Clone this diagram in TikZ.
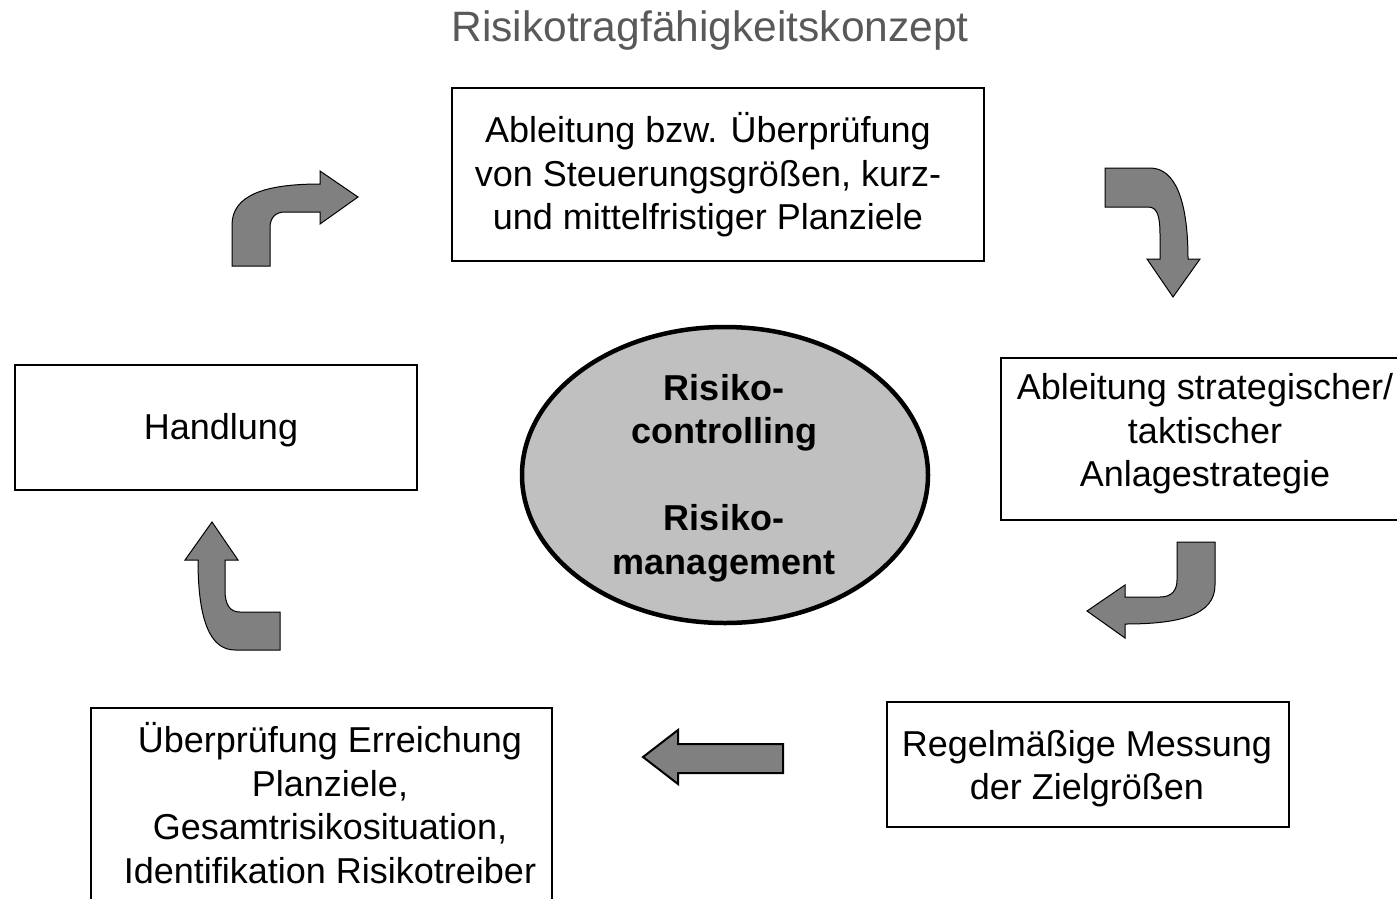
\documentclass[tikz,border=0pt]{standalone}
\usepackage{fontspec}
\setmainfont{Liberation Sans}
\usetikzlibrary{shapes.geometric}
\definecolor{arrowgray}{HTML}{808080}
\definecolor{ellgray}{HTML}{C0C0C0}
\definecolor{titlegray}{HTML}{595959}
\begin{document}
\begin{tikzpicture}[x=1pt,y=-1pt,
  box/.style={draw=black,line width=1.3pt,rectangle,inner sep=0pt},
  txt/.style={align=center,inner sep=0pt,font=\fontsize{36}{43.5}\selectfont},
  bent/.style={fill=arrowgray,draw=black,line width=1pt,line join=miter},
  flat/.style={fill=arrowgray,draw=black,line width=2pt,line join=miter}]
\useasboundingbox (0,0) rectangle (1397,898);
\begin{scope}
\clip (0,0) rectangle (1397,898);
% title
\node[inner sep=0pt,text=titlegray,font=\fontsize{42.5}{50}\selectfont] (title) at (710,31) {Risikotragfähigkeitskonzept};
% boxes
\node[box,minimum width=532pt,minimum height=173pt] (top) at (718,174.5) {};
\node[txt] (toptxt) at (708,175) {Ableitung bzw. Überprüfung\\von Steuerungsgrößen, kurz-\\und mittelfristiger Planziele};
\node[box,minimum width=402pt,minimum height=125pt] (hand) at (216,427.5) {};
\node[txt] (handtxt) at (221,430) {Handlung};
\node[box,minimum width=420pt,minimum height=162pt] (right) at (1211,439) {};
\node[txt] (righttxt) at (1205,434) {Ableitung strategischer/\\taktischer\\Anlagestrategie};
\node[box,minimum width=402pt,minimum height=125pt] (regel) at (1088,764.5) {};
\node[txt] (regeltxt) at (1087,768.5) {Regelmäßige Messung\\der Zielgrößen};
\node[box,minimum width=461pt,minimum height=220pt] (check) at (321.5,818) {};
\node[txt] (checktxt) at (330,803) {Überprüfung Erreichung\\Planziele,\\Gesamtrisikosituation,\\Identifikation Risikotreiber};
% ellipse
\node[ellipse,draw=black,line width=4.5pt,fill=ellgray,minimum width=406pt,minimum height=296pt] (ell) at (725,475) {};
\node[txt,font=\bfseries\fontsize{36}{43.5}\selectfont] (elltxt) at (724,478) {Risiko-\\controlling\\\strut\\Risiko-\\management};
% arrows
\draw[bent] (232,266) -- (232,225) .. controls (232,195) and (265,184) .. (320,184) -- (320,171) -- (358,197) -- (320,224) -- (320,212) -- (285,212) .. controls (275,212) and (270,218) .. (270,228) -- (270,266) -- cycle;
\draw[bent] (1105,168) -- (1150,168) .. controls (1175,168) and (1188,200) .. (1188,259) -- (1200,259) -- (1173,297) -- (1147,259) -- (1160,259) -- (1160,235) .. controls (1160,215) and (1157,207) .. (1148,207) -- (1105,207) -- cycle;
\draw[bent] (1177,542) -- (1215,542) -- (1215,585) .. controls (1215,615) and (1180,624) .. (1125,624) -- (1125,638) -- (1087,611) -- (1125,585) -- (1125,597) -- (1160,597) .. controls (1172,597) and (1177,590) .. (1177,580) -- cycle;
\draw[bent] (280,612) -- (280,650) -- (235,650) .. controls (210,650) and (198,620) .. (198,560) -- (185,560) -- (212,522) -- (238,560) -- (225,560) -- (225,590) .. controls (225,605) and (230,612) .. (240,612) -- cycle;
\draw[flat] (783,744) -- (678,744) -- (678,730) -- (643,757) -- (678,784) -- (678,773) -- (783,773) -- cycle;
\end{scope}
\end{tikzpicture}
\end{document}
